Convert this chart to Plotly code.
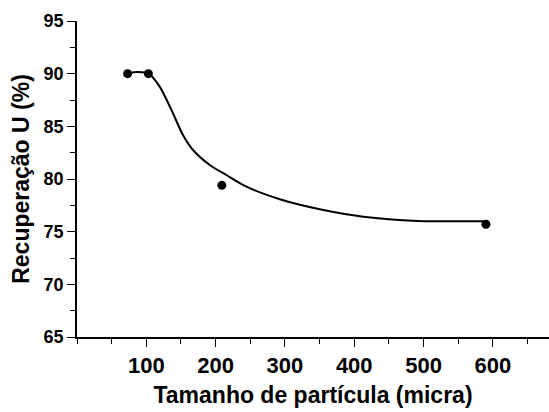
import plotly.graph_objects as go

# measured points
pts_x = [73, 103, 209, 590]
pts_y = [90.0, 90.0, 79.4, 75.7]

# fitted curve
curve_x = [73.5, 88, 103.8, 119.3, 136.2, 152.9, 167.4, 191.5, 215.6, 244.5, 292.6, 350.3, 412.9, 492.3, 588.6]
curve_y = [90.04, 90.17, 89.98, 88.77, 86.56, 84.18, 82.75, 81.33, 80.38, 79.27, 78.08, 77.13, 76.42, 76.02, 75.99]

x_ticks = [100, 200, 300, 400, 500, 600]
y_ticks = [65, 70, 75, 80, 85, 90, 95]

font_family = "Liberation Sans, Arial, sans-serif"

fig = go.Figure()
fig.add_trace(go.Scatter(x=curve_x, y=curve_y, mode="lines",
                         line=dict(color="black", width=2, shape="spline", smoothing=0.8),
                         showlegend=False, hoverinfo="skip"))
fig.add_trace(go.Scatter(x=pts_x, y=pts_y, mode="markers",
                         marker=dict(color="black", size=9),
                         showlegend=False))

fig.update_layout(
    width=549, height=412,
    margin=dict(l=77, r=0, t=21, b=75),
    paper_bgcolor="white", plot_bgcolor="white",
    font=dict(family=font_family, color="black"),
    xaxis=dict(
        range=[0, 681], tickvals=x_ticks, ticktext=[f"<b>{v}</b>" for v in x_ticks],
        showline=True, linecolor="black", linewidth=1.5, mirror=False,
        ticks="outside", ticklen=8, tickwidth=1, tickcolor="black",
        minor=dict(ticks="outside", ticklen=5, tick0=0, dtick=50, tickcolor="black", showgrid=False),
        showgrid=False, zeroline=False,
        tickfont=dict(size=22, family=font_family),
        ticklabelstandoff=0,
        title=dict(text="<b>Tamanho de partícula (micra)</b>", font=dict(size=23, family=font_family), standoff=10),
    ),
    yaxis=dict(
        range=[65, 95], tickvals=y_ticks, ticktext=[f"<b>{v}</b>" for v in y_ticks],
        showline=True, linecolor="black", linewidth=1.5, mirror=False,
        ticks="outside", ticklen=8, tickwidth=1, tickcolor="black",
        minor=dict(ticks="outside", ticklen=5, tick0=65, dtick=2.5, tickcolor="black", showgrid=False),
        showgrid=False, zeroline=False,
        tickfont=dict(size=18, family=font_family),
        ticklabelstandoff=0,
        title=dict(text="<b>Recuperação U (%)</b>", font=dict(size=23, family=font_family), standoff=8),
    ),
)

fig.write_html("out.html")
